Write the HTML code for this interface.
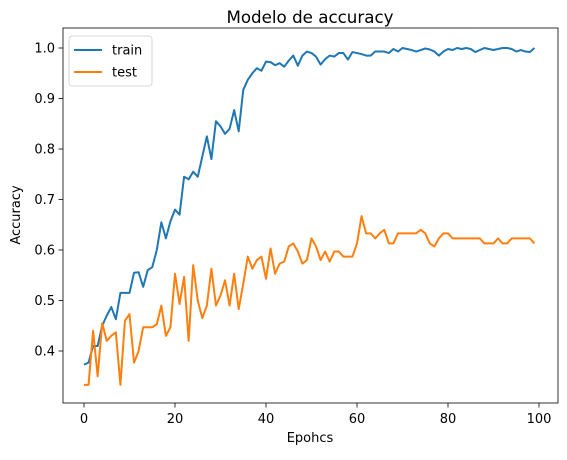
<!DOCTYPE html>
<html><head><meta charset="utf-8"><style>
body{margin:0;background:#fff;font-family:"Liberation Sans","DejaVu Sans",sans-serif}
svg text{font-family:"DejaVu Sans","Liberation Sans",sans-serif}
</style></head><body>
<svg id="c" width="567" height="455"></svg>
<script>
const epochs=[...Array(100).keys()];
const trainAcc=[0.373,0.377,0.41,0.41,0.45,0.47,0.487,0.463,0.515,0.515,0.515,0.555,0.556,0.527,0.56,0.566,0.60,0.655,0.623,0.657,0.68,0.67,0.745,0.74,0.755,0.745,0.785,0.825,0.78,0.855,0.845,0.83,0.84,0.877,0.835,0.917,0.937,0.95,0.96,0.955,0.973,0.972,0.966,0.97,0.963,0.975,0.985,0.965,0.985,0.993,0.99,0.983,0.967,0.978,0.985,0.983,0.99,0.99,0.977,0.992,0.99,0.988,0.985,0.985,0.993,0.993,0.993,0.99,0.998,0.993,1.0,0.998,0.996,0.993,0.996,0.999,0.997,0.993,0.985,0.993,0.998,0.996,1.0,0.998,1.0,0.998,0.992,0.996,1.0,0.998,0.996,0.998,1.0,1.0,0.998,0.993,0.996,0.993,0.992,1.0];
const testAcc=[0.333,0.333,0.44,0.35,0.455,0.42,0.43,0.437,0.333,0.46,0.473,0.377,0.40,0.447,0.447,0.447,0.453,0.49,0.43,0.447,0.553,0.493,0.547,0.42,0.57,0.50,0.465,0.49,0.563,0.49,0.51,0.54,0.49,0.553,0.483,0.533,0.587,0.563,0.58,0.587,0.543,0.603,0.553,0.573,0.577,0.607,0.613,0.597,0.573,0.58,0.623,0.607,0.58,0.597,0.577,0.597,0.597,0.587,0.587,0.587,0.613,0.667,0.633,0.633,0.623,0.633,0.64,0.613,0.613,0.633,0.633,0.633,0.633,0.633,0.64,0.633,0.613,0.607,0.623,0.633,0.633,0.623,0.623,0.623,0.623,0.623,0.623,0.623,0.613,0.613,0.613,0.623,0.613,0.613,0.623,0.623,0.623,0.623,0.623,0.613];
const xTicks=[0,20,40,60,80,100];
const yTicks=[0.4,0.5,0.6,0.7,0.8,0.9,1.0];
const L=63,R=558,T=28,B=403;
const X=v=>84+(v-0)*(539-84)/100;
const Y=v=>48+(1.0-v)*(351-48)/0.6;
const s=document.getElementById('c');const NS='http://www.w3.org/2000/svg';
function el(t,a,p){const e=document.createElementNS(NS,t);for(const k in a)e.setAttribute(k,a[k]);(p||s).appendChild(e);return e;}
let e;
e=el('text',{x:310,y:23,'font-size':16.7,'text-anchor':'middle'});e.textContent='Modelo de accuracy';


xTicks.forEach(v=>{
 e=el('line',{x1:X(v),x2:X(v),y1:B,y2:B+4.5,stroke:'#000','stroke-width':0.8});
 
 
 e=el('text',{x:X(v),y:B+20,'font-size':13,'text-anchor':'middle'});e.textContent=v;
 
 
});
yTicks.forEach(v=>{
 e=el('line',{x1:L-4.5,x2:L,y1:Y(v),y2:Y(v),stroke:'#000','stroke-width':0.8});
 
 
 e=el('text',{x:L-8,y:Y(v)+4.5,'font-size':13,'text-anchor':'end'});e.textContent=v.toFixed(1);
 
 
});
e=el('text',{x:310,y:442,'font-size':13,'text-anchor':'middle'});e.textContent='Epohcs';


e=el('text',{x:20,y:215,'font-size':13,'text-anchor':'middle',transform:'rotate(-90 20 215)'});e.textContent='Accuracy';


function line(d,c,n){e=el('polyline',{points:d.map((v,i)=>X(epochs[i])+','+Y(v)).join(' '),fill:'none',stroke:c,'stroke-width':2,'stroke-linejoin':'round'});
 
 }
line(trainAcc,'#1f77b4','train-line');
line(testAcc,'#ff7f0e','test-line');
e=el('rect',{x:L,y:T,width:R-L,height:B-T,fill:'none',stroke:'#000','stroke-width':0.8});


const g=el('g',{});


el('rect',{x:69,y:36,width:83,height:50,rx:3,fill:'#fff',stroke:'#ccc','stroke-width':0.8},g);
[['train','#1f77b4'],['test','#ff7f0e']].forEach((d,i)=>{
 const y=50+i*22;
 e=el('line',{x1:74,x2:102,y1:y,y2:y,stroke:d[1],'stroke-width':2},g);
 
 
 e=el('text',{x:112,y:y+4.5,'font-size':13},g);e.textContent=d[0];
 
 
});
</script>
</body></html>
